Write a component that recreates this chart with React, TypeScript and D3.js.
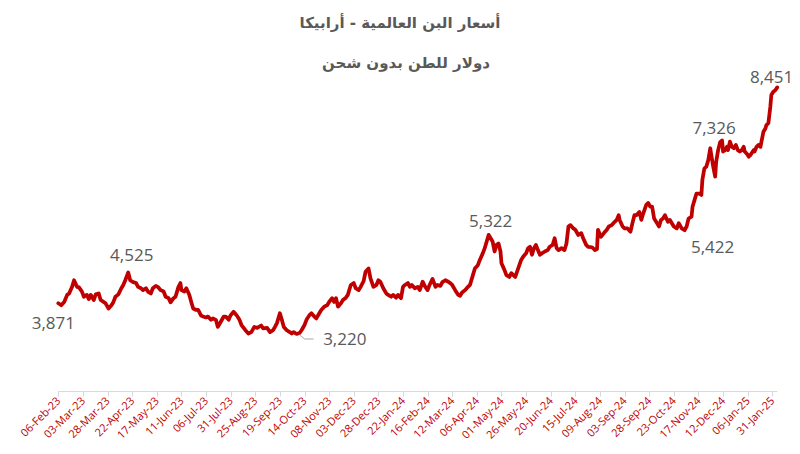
import React from "react";
import * as d3 from "d3";

const TITLE = "أسعار البن العالمية - أرابيكا";
const SUBTITLE = "دولار للطن بدون شحن";

const START = "2023-02-06";
// days since START
const DAY_OFFSETS = [
  0, 3, 6, 9, 11, 14, 16, 19, 21, 24, 26, 29, 31, 33, 36, 38, 41, 43, 46, 48,
  51, 54, 56, 58, 61, 64, 66, 68, 71, 73, 76, 79, 81, 84, 86, 89, 91, 94, 96, 99,
  101, 104, 107, 109, 112, 114, 117, 119, 122, 124, 125, 128, 130, 133, 135, 137, 140, 142, 145, 147,
  150, 152, 155, 157, 160, 162, 165, 168, 170, 173, 175, 178, 181, 184, 186, 190, 193, 196, 199, 202,
  206, 208, 212, 215, 218, 220, 222, 225, 227, 229, 232, 235, 237, 239, 242, 245, 247, 250, 252, 255,
  257, 260, 262, 265, 267, 270, 273, 275, 278, 280, 282, 284, 287, 289, 292, 294, 297, 300, 302, 305,
  307, 310, 312, 315, 317, 320, 323, 325, 327, 330, 333, 335, 338, 340, 343, 345, 348, 350, 352, 355,
  357, 359, 362, 365, 367, 370, 372, 375, 377, 380, 383, 385, 388, 390, 393, 395, 398, 400, 403, 406,
  408, 410, 413, 416, 418, 420, 423, 426, 428, 431, 433, 435, 437, 439, 441, 443, 445, 447, 449, 450,
  453, 455, 458, 460, 462, 464, 467, 470, 472, 475, 477, 479, 481, 483, 485, 487, 489, 491, 494, 497,
  499, 502, 504, 506, 508, 511, 514, 516, 518, 520, 523, 525, 528, 531, 533, 536, 538, 542, 545, 547,
  548, 551, 554, 557, 559, 562, 565, 567, 569, 570, 573, 575, 578, 581, 583, 585, 587, 590, 592, 594,
  597, 599, 601, 603, 605, 608, 610, 612, 614, 616, 619, 621, 623, 625, 628, 630, 633, 636, 638, 640,
  643, 644, 646, 648, 651, 653, 654, 656, 658, 660, 662, 663, 665, 667, 668, 670, 672, 674, 675, 677,
  679, 680, 682, 684, 686, 688, 690, 692, 694, 696, 697, 700, 701, 703, 706, 707, 709, 711, 713, 714,
  716, 718, 719, 721, 723, 724, 726, 728, 730,
];
// USD per tonne
const PRICES = [
  3871, 3830, 3900, 4050, 4080, 4220, 4360, 4220, 4210, 4120, 4010, 4050, 3960, 4050, 3940, 4060, 4080, 3940, 3900, 3870,
  3760, 3830, 3900, 4010, 4060, 4190, 4260, 4360, 4525, 4360, 4320, 4300, 4220, 4190, 4150, 4190, 4120, 4080, 4190, 4240,
  4220, 4150, 4120, 4010, 3980, 3890, 3980, 4010, 4220, 4300, 4150, 4120, 4190, 4050, 3900, 3760, 3730, 3730, 3610, 3590,
  3570, 3590, 3520, 3550, 3520, 3370, 3480, 3590, 3590, 3520, 3620, 3690, 3620, 3520, 3410, 3300, 3230, 3260, 3370, 3350,
  3400, 3340, 3350, 3260, 3300, 3370, 3450, 3660, 3520, 3370, 3300, 3260, 3230, 3260, 3220, 3240, 3300, 3410, 3520, 3620,
  3660, 3590, 3550, 3660, 3730, 3800, 3830, 3900, 3980, 3900, 3980, 3800, 3870, 3940, 3990, 4050, 4260, 4300, 4190, 4150,
  4220, 4340, 4540, 4610, 4400, 4220, 4260, 4360, 4330, 4190, 4080, 4050, 4010, 4050, 3990, 4050, 3980, 4220, 4260, 4300,
  4220, 4260, 4190, 4220, 4150, 4330, 4240, 4150, 4260, 4390, 4220, 4260, 4240, 4320, 4360, 4340, 4300, 4260, 4150, 4050,
  4030, 4100, 4150, 4220, 4260, 4400, 4610, 4680, 4790, 4930, 5040, 5180, 5322, 5250, 5180, 4970, 5110, 5140, 4970, 4720,
  4580, 4470, 4430, 4510, 4470, 4430, 4610, 4790, 4860, 4930, 5040, 5070, 4900, 5040, 5110, 5000, 4900, 4930, 4970, 5000,
  5070, 5110, 5250, 5040, 5000, 5040, 5000, 5140, 5500, 5530, 5460, 5430, 5320, 5360, 5250, 5110, 5070, 5060, 5000, 5020,
  5430, 5280, 5360, 5430, 5500, 5530, 5600, 5640, 5740, 5640, 5500, 5460, 5460, 5390, 5570, 5740, 5740, 5810, 5640, 5780,
  5960, 6000, 5920, 5920, 5670, 5570, 5500, 5640, 5670, 5740, 5600, 5640, 5570, 5500, 5460, 5570, 5460, 5422, 5500, 5670,
  5710, 5920, 6060, 6200, 6200, 6170, 6490, 6730, 6770, 6910, 7160, 7020, 6770, 6560, 6870, 7120, 7290, 7326, 7090, 7120,
  7190, 7120, 7300, 7190, 7160, 7230, 7120, 7090, 7120, 7190, 7090, 7020, 6980, 7020, 7120, 7090, 7190, 7230, 7190, 7300,
  7510, 7580, 7650, 7690, 8040, 8290, 8360, 8390, 8451,
];

const TICK_LABELS = [
  "06-Feb-23", "03-Mar-23", "28-Mar-23", "22-Apr-23", "17-May-23", "11-Jun-23", "06-Jul-23", "31-Jul-23",
  "25-Aug-23", "19-Sep-23", "14-Oct-23", "08-Nov-23", "03-Dec-23", "28-Dec-23", "22-Jan-24", "16-Feb-24",
  "12-Mar-24", "06-Apr-24", "01-May-24", "26-May-24", "20-Jun-24", "15-Jul-24", "09-Aug-24", "03-Sep-24",
  "28-Sep-24", "23-Oct-24", "17-Nov-24", "12-Dec-24", "06-Jan-25", "31-Jan-25",
];

// labelled points (by day offset)
const LABEL_DAYS = [0, 71, 242, 437, 636, 674, 730];

const W = 800;
const H = 454;
const RED = "#C00000";
const GREY = "#595959";

export default function App() {
  const parseTick = d3.utcParse("%d-%b-%y");
  const start = d3.utcParse("%Y-%m-%d")(START) as Date;
  const data = DAY_OFFSETS.map((d, i) => ({ date: d3.utcDay.offset(start, d), value: PRICES[i], day: d }));
  const ticks = TICK_LABELS.map((t) => ({ label: t, date: parseTick(t) as Date }));

  const x = d3
    .scaleUtc()
    .domain([ticks[0].date, ticks[ticks.length - 1].date])
    .range([58.3, 772.3]);
  const y = d3.scaleLinear().domain([2000, 9000]).range([391.5, 61.5]);

  const line = d3
    .line<{ date: Date; value: number }>()
    .x((d) => x(d.date))
    .y((d) => y(d.value))
    .curve(d3.curveLinear);

  const axisY = y(2000);
  const axisEnd = x(data[data.length - 1].date);
  const fmt = d3.format(",");

  // label placement offsets (dx, dy from point to label centre)
  const labelOffsets: Record<number, [number, number, string]> = {
    0: [-5, 19, "middle"],
    71: [3.5, -17.5, "middle"],
    242: [26.5, 4.5, "start"],
    437: [2, -14.5, "middle"],
    636: [28, 16.5, "middle"],
    674: [-8, -12.5, "middle"],
    730: [-5.6, -11, "middle"],
  };

  return (
    <svg
      width={W}
      height={H}
      style={{ position: "absolute", left: 0, top: 0, background: "#fff" }}
      fontFamily="'Open Sans', 'DejaVu Sans', sans-serif"
    >
      <rect width={W} height={H} fill="#fff" />
      <text
        x={400}
        y={28}
        textAnchor="middle"
        fontFamily="'DejaVu Sans', sans-serif"
        fontWeight="bold"
        fontSize={15}
        fill={GREY}
        direction="rtl"
      >
        {TITLE}
      </text>
      <text
        x={406}
        y={68}
        textAnchor="middle"
        fontFamily="'DejaVu Sans', sans-serif"
        fontWeight="bold"
        fontSize={15}
        fill={GREY}
        direction="rtl"
      >
        {SUBTITLE}
      </text>

      {/* x axis */}
      <line x1={x(ticks[0].date)} x2={axisEnd} y1={axisY} y2={axisY} stroke="#D9D9D9" strokeWidth={1} />
      {ticks.map((t, i) => {
        const tx = Math.round(x(t.date)) + 0.5;
        return (
          <g key={i}>
            <line x1={tx} x2={tx} y1={axisY} y2={axisY + 5} stroke="#D9D9D9" strokeWidth={1} />
            <text
              transform={`translate(${x(t.date) + 3},${axisY + 10}) rotate(-45)`}
              textAnchor="end"
              fontSize={11}
              fill={RED}
            >
              {t.label}
            </text>
          </g>
        );
      })}

      <path
        d={line(data) || ""}
        fill="none"
        stroke={RED}
        strokeWidth={3.75}
        strokeLinejoin="round"
        strokeLinecap="round"
      />

      {/* leader line for minimum */}
      {(() => {
        const p = data.find((d) => d.day === 242)!;
        const px = x(p.date);
        const py = y(p.value);
        return (
          <path
            d={`M${px + 3},${py + 1} L${px + 8},${py + 5} L${px + 17},${py + 5}`}
            fill="none"
            stroke="#A6A6A6"
            strokeWidth={1}
          />
        );
      })()}

      {LABEL_DAYS.map((dd) => {
        const p = data.find((d) => d.day === dd)!;
        const [dx, dy, anchor] = labelOffsets[dd];
        return (
          <text
            key={dd}
            x={x(p.date) + dx}
            y={y(p.value) + dy}
            textAnchor={anchor as any}
            dominantBaseline="central"
            fontSize={17}
            fill={GREY}
          >
            {fmt(p.value)}
          </text>
        );
      })}
    </svg>
  );
}
